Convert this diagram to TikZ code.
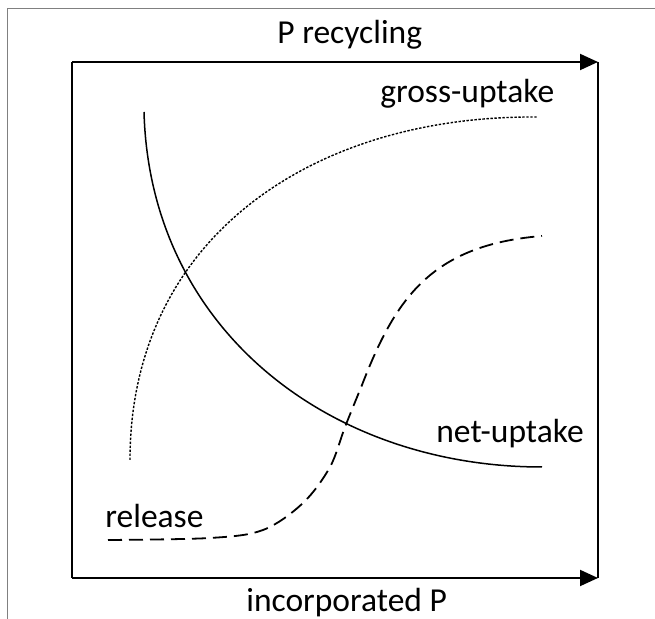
\documentclass[tikz,border=0pt]{standalone}
\usepackage{fontspec}
\setmainfont{Carlito}
\usetikzlibrary{arrows.meta}
\begin{document}
\begin{tikzpicture}[x=0.5pt,y=-0.5pt,
  lbl/.style={inner sep=0pt,anchor=base west,font=\fontsize{16.75}{20}\selectfont},
  axisline/.style={line width=1pt,black},
  arr/.style={axisline,-{Triangle[length=9pt,width=8pt]}},
  netcurve/.style={line width=0.75pt},
  grosscurve/.style={line width=0.7pt,dash pattern=on 1.2pt off 0.8pt},
  relcurve/.style={line width=0.9pt,dash pattern=on 7pt off 3.5pt}]
\useasboundingbox (0,0) rectangle (655,619);
% outer frame
\draw[gray,line width=0.8pt] (7.5,619) -- (7.5,8.5) -- (655,8.5);
% box corners
\coordinate (tl) at (72,62);
\coordinate (tr) at (598,62);
\coordinate (bl) at (72,578);
\coordinate (br) at (598,578);
\draw[axisline] (tl) -- (bl);
\draw[axisline] (tr) -- (br);
\draw[arr] (tl) -- (tr);
\draw[arr] (bl) -- (br);
% labels
\node[lbl] (precyc) at (277,44) {P recycling};
\node[lbl] (gross) at (380,103) {gross-uptake};
\node[lbl] (net) at (436,443) {net-uptake};
\node[lbl] (rel) at (105,528) {release};
\node[lbl] (incP) at (246,612) {incorporated P};
% curves
\coordinate (n0) at (144,112);
\coordinate (n1) at (542,467);
\draw[netcurve] (n0) .. controls (150,330) and (330,467) .. (n1);
\coordinate (g0) at (130,460);
\coordinate (g1) at (538,117);
\draw[grosscurve] (g0) .. controls (130,240) and (310,115) .. (g1);
\coordinate (r1) at (542,236);
\draw[relcurve] plot[smooth,tension=0.55] coordinates {(108,540) (210,538) (263,530) (303,503) (330,467) (345,427) (362,385)} .. controls (395,300) and (430,245) .. (r1);
\end{tikzpicture}
\end{document}
